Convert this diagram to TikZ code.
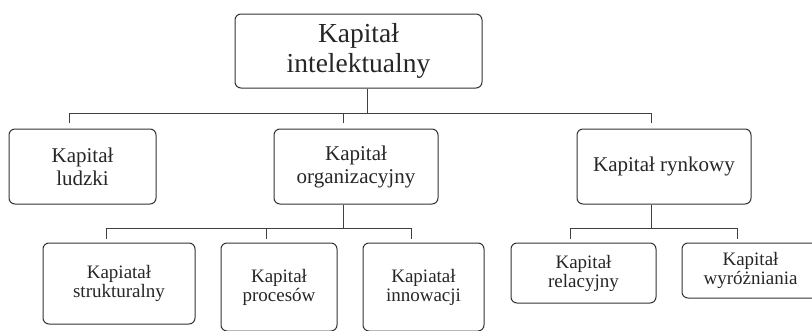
\documentclass[tikz,border=0pt]{standalone}
\usepackage{fontspec}
\setmainfont{Liberation Serif}

\begin{document}
\begin{tikzpicture}[x=1pt, y=-1pt,
        box/.style={draw=black!80, line width=1pt, rounded corners=6pt, align=center, text=black!85, inner sep=0pt},
        lvlone/.style={box, font=\fontsize{27.5}{30}\selectfont},
        lvltwo/.style={box, font=\fontsize{21}{23}\selectfont},
        lvlthree/.style={box, font=\fontsize{19}{19}\selectfont},
        link/.style={draw=black!75, line width=1pt}]
        \useasboundingbox (0,0) rectangle (812,330);

        \node [lvlone, minimum width=247pt, minimum height=74pt] (ki) at (358.5,51) {Kapitał\\intelektualny};

        \node [lvltwo, minimum width=147pt, minimum height=75pt] (kl) at (82.5,166.5) {Kapitał\\ludzki};
        \node [lvltwo, minimum width=164pt, minimum height=75pt] (ko) at (356,166.5) {Kapitał\\organizacyjny};
        \node [lvltwo, minimum width=174pt, minimum height=75pt] (kr) at (664,166.5) {Kapitał rynkowy};

        \node [lvlthree, minimum width=152pt, minimum height=81pt] (ks) at (119,283.5) {Kapiatał\\strukturalny};
        \node [lvlthree, minimum width=116pt, minimum height=88pt] (kp) at (279,287) {Kapitał\\procesów};
        \node [lvlthree, minimum width=121pt, minimum height=88pt] (kn) at (423.5,287) {Kapiatał\\innowacji};
        \node [lvlthree, minimum width=145pt, minimum height=60pt] (kre) at (583.5,273) {Kapitał\\relacyjny};
        \node [lvlthree, minimum width=137pt, minimum height=55pt] (kw) at (750.5,270.5) {Kapitał\\wyróżniania};

        \coordinate (j1) at (367,113);
        \coordinate (j2) at (343,228);
        \coordinate (j3) at (651,228);

        \draw [link] (ki.south -| j1) -- (j1);
        \draw [link, shorten >=6pt] (j1) -| ([xshift=-13.5pt]kl.north);
        \draw [link, shorten >=6pt] (j1) -| ([xshift=-13pt]ko.north);
        \draw [link, shorten >=6pt] (j1) -| ([xshift=-13pt]kr.north);

        \draw [link] (ko.south -| j2) -- (j2);
        \draw [link, shorten >=4pt] (j2) -| ([xshift=-13pt]ks.north);
        \draw [link, shorten >=4pt] (j2) -| ([xshift=-13pt]kp.north);
        \draw [link, shorten >=4pt] (j2) -| ([xshift=-12.5pt]kn.north);

        \draw [link] (kr.south -| j3) -- (j3);
        \draw [link, shorten >=4pt] (j3) -| ([xshift=-13.5pt]kre.north);
        \draw [link, shorten >=4pt] (j3) -| ([xshift=-13.5pt]kw.north);
\end{tikzpicture}
\end{document}
